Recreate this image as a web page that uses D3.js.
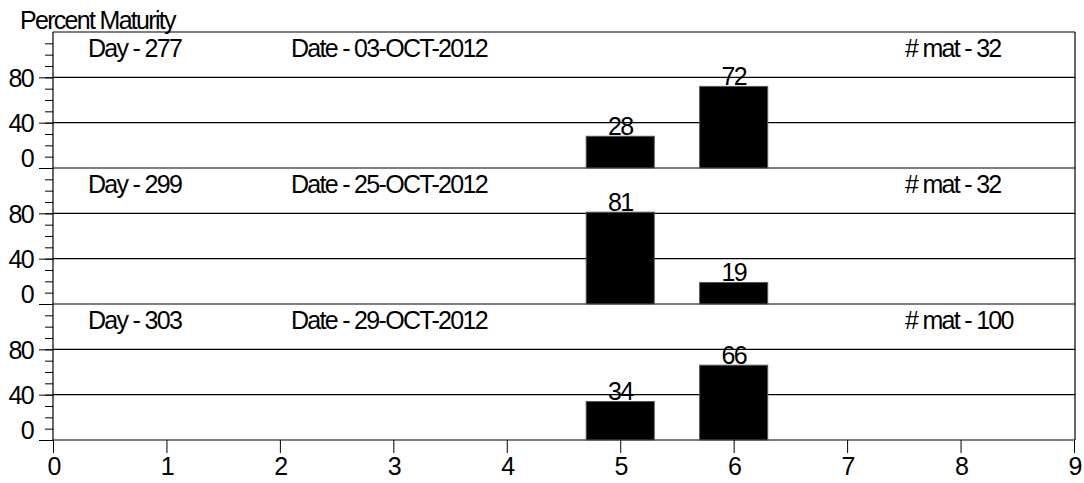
<!DOCTYPE html>
<html>
<head>
<meta charset="utf-8">
<script src="https://cdn.jsdelivr.net/npm/d3@7"></script>
<style>
  body { margin: 0; background: #fff; }
  svg text { font-family: "Liberation Sans", Arial, sans-serif; font-size: 25px; letter-spacing: -1.7px; fill: #000; }
</style>
</head>
<body>
<svg id="chart" width="1084" height="483"></svg>
<script>
// panel data
const days = [277, 299, 303];
const dates = ["03-OCT-2012", "25-OCT-2012", "29-OCT-2012"];
const matCounts = [32, 32, 100];
const categories = [5, 6];
const percents = [
  [28, 72],
  [81, 19],
  [34, 66]
];
const yTicks = [0, 40, 80];
const xTicks = [0, 1, 2, 3, 4, 5, 6, 7, 8, 9];

const svg = d3.select("#chart");
const plotLeft = 53, plotRight = 1075, plotTop = 32, panelH = 136;
const plotBottom = plotTop + panelH * days.length;

let xScale = d3.scaleLinear().domain([0, 9]).range([plotLeft, 1074]);
const barW = xScale(0.6) - xScale(0);

// title
svg.append("text").attr("x", 20).attr("y", 29).text("Percent Maturity");

days.forEach((day, i) => {
  const y0 = plotTop + panelH * i;
  let yScale = d3.scaleLinear().domain([0, 120]).range([y0 + panelH, y0]);
  const g = svg.append("g");

  // minor ticks every 10
  g.append("g")
    .attr("transform", `translate(${plotLeft},0)`)
    .call(d3.axisLeft(yScale).tickValues(d3.range(0, 120, 10)).tickSize(8).tickFormat(""))
    .call(a => a.select(".domain").remove())
    .call(a => a.selectAll("line").attr("stroke", "#000"));

  // major ticks + labels
  g.append("g")
    .attr("transform", `translate(${plotLeft},0)`)
    .call(d3.axisLeft(yScale).tickValues(yTicks).tickSize(14).tickPadding(6))
    .call(a => a.select(".domain").remove())
    .call(a => a.selectAll("line").attr("stroke", "#000"))
    .call(a => a.selectAll("text")
      .attr("font-size", null).attr("font-family", null)
      .attr("dy", d => d === 0 ? "-0.05em" : "0.36em"));

  // gridlines
  g.selectAll("line.grid").data(yTicks).join("line")
    .attr("class", "grid")
    .attr("x1", plotLeft).attr("x2", plotRight)
    .attr("y1", d => yScale(d)).attr("y2", d => yScale(d))
    .attr("stroke", "#000").attr("stroke-width", 1.2);

  // bars
  g.selectAll("rect").data(percents[i]).join("rect")
    .attr("x", (d, j) => xScale(categories[j]) - barW / 2)
    .attr("width", barW)
    .attr("y", d => yScale(d))
    .attr("height", d => yScale(0) - yScale(d))
    .attr("fill", "#000").attr("stroke", "#555").attr("stroke-width", 1);

  // bar labels
  g.selectAll("text.val").data(percents[i]).join("text")
    .attr("class", "val")
    .attr("text-anchor", "middle")
    .attr("x", (d, j) => xScale(categories[j]))
    .attr("y", d => yScale(d) - 1)
    .text(d => d);

  // panel header texts
  g.append("text").attr("x", 88).attr("y", y0 + 25).text("Day - " + day);
  g.append("text").attr("x", 291).attr("y", y0 + 25).text("Date - " + dates[i]);
  g.append("text").attr("x", 905).attr("y", y0 + 25).text("# mat - " + matCounts[i]);
});

// frame: top, left, right
svg.append("line").attr("x1", plotLeft).attr("x2", plotRight).attr("y1", plotTop).attr("y2", plotTop).attr("stroke", "#000").attr("stroke-width", 1.2);
svg.append("line").attr("x1", plotLeft).attr("x2", plotLeft).attr("y1", plotTop).attr("y2", plotBottom).attr("stroke", "#000").attr("stroke-width", 1.2);
svg.append("line").attr("x1", plotRight).attr("x2", plotRight).attr("y1", plotTop).attr("y2", plotBottom).attr("stroke", "#000").attr("stroke-width", 1.2);

// x axis
svg.append("g")
  .attr("transform", `translate(0,${plotBottom})`)
  .call(d3.axisBottom(xScale).tickValues(xTicks).tickSize(13).tickPadding(4).tickFormat(d3.format("d")))
  .call(a => a.select(".domain").remove())
  .call(a => a.selectAll("line").attr("stroke", "#000"))
  .call(a => a.selectAll("text").attr("font-size", null).attr("font-family", null));
</script>
</body>
</html>
